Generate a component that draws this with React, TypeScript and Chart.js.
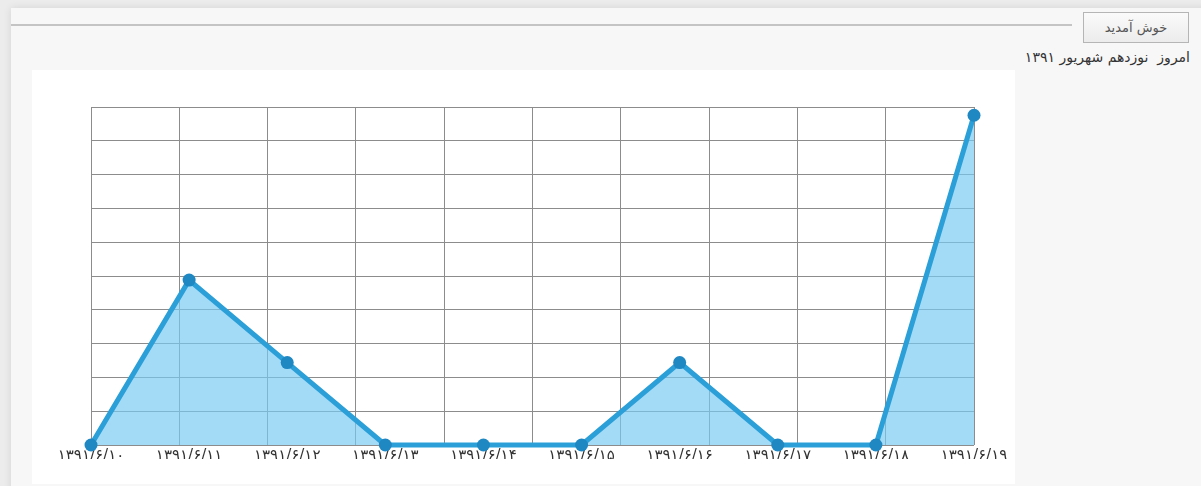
import React, { useEffect, useRef } from "react";
import { Chart, registerables } from "chart.js";

Chart.register(...registerables);

const dateLabels = [
  "۱۳۹۱/۶/۱۰",
  "۱۳۹۱/۶/۱۱",
  "۱۳۹۱/۶/۱۲",
  "۱۳۹۱/۶/۱۳",
  "۱۳۹۱/۶/۱۴",
  "۱۳۹۱/۶/۱۵",
  "۱۳۹۱/۶/۱۶",
  "۱۳۹۱/۶/۱۷",
  "۱۳۹۱/۶/۱۸",
  "۱۳۹۱/۶/۱۹",
];
const visits = [0, 2, 1, 0, 0, 0, 1, 0, 0, 4];
const yMax = 4.1;
const gridColumns = 10;

const welcomeText = "خوش آمدید";
const todayText = "امروز  نوزدهم شهریور ۱۳۹۱";

export default function App() {
  const canvasRef = useRef<HTMLCanvasElement | null>(null);

  useEffect(() => {
    const prev = document.body.style.margin;
    document.body.style.margin = "0";
    const canvas = canvasRef.current;
    if (!canvas) return;
    const points = visits.map((v, i) => ({ x: i, y: v }));
    const chart = new Chart(canvas, {
      type: "line",
      data: {
        datasets: [
          {
            data: points,
            borderColor: "#2b9fd8",
            borderWidth: 5,
            backgroundColor: "rgba(120, 200, 242, 0.68)",
            fill: "origin",
            tension: 0,
            clip: false,
            pointRadius: 6.5,
            pointHoverRadius: 6.5,
            pointBackgroundColor: "#1f87c2",
            pointBorderColor: "#1f87c2",
            pointBorderWidth: 0,
            xAxisID: "x",
            yAxisID: "y",
          },
        ],
      },
      options: {
        animation: false,
        responsive: false,
        maintainAspectRatio: false,
        layout: { padding: { left: 59, right: 41, top: 37, bottom: 25 } },
        plugins: { legend: { display: false }, tooltip: { enabled: false } },
        scales: {
          x: {
            type: "linear",
            position: "bottom",
            min: 0,
            max: dateLabels.length - 1,
            grid: { display: false },
            border: { display: false },
            ticks: {
              stepSize: 1,
              autoSkip: false,
              maxRotation: 0,
              padding: -6,
              color: "#333",
              font: { family: "DejaVu Sans", size: 15 },
              callback: (v: any) => dateLabels[Math.round(Number(v))] ?? "",
            },
          },
          x2: {
            type: "linear",
            position: "top",
            min: 0,
            max: gridColumns,
            grid: { color: "#8c8c8c", lineWidth: 1, drawTicks: false },
            border: { display: true, color: "#8c8c8c" },
            ticks: { display: false, stepSize: 1 },
          },
          y: {
            type: "linear",
            min: 0,
            max: yMax,
            grid: { color: "#8c8c8c", lineWidth: 1, drawTicks: false },
            border: { display: true, color: "#8c8c8c" },
            ticks: { display: false, count: 11 },
          },
        },
      },
    });
    return () => {
      chart.destroy();
      document.body.style.margin = prev;
    };
  }, []);

  return (
    <div
      style={{
        position: "relative",
        width: 1201,
        height: 486,
        background: "#ececec",
        overflow: "hidden",
        fontFamily: "Tahoma, 'DejaVu Sans', sans-serif",
      }}
    >
      <div
        style={{
          position: "absolute",
          left: 11,
          top: 8,
          width: 1200,
          height: 490,
          background: "#f7f7f7",
          boxShadow: "0 0 8px rgba(0,0,0,0.10)",
        }}
      />
      <div
        style={{
          position: "absolute",
          left: 11,
          top: 24,
          width: 1061,
          height: 2,
          background: "#c4c4c4",
        }}
      />
      <div
        style={{
          position: "absolute",
          left: 1083,
          top: 12,
          width: 106,
          height: 31,
          border: "1px solid #b5b5b5",
          background: "linear-gradient(#fafafa, #ececec)",
          boxSizing: "border-box",
          color: "#555",
          fontSize: 13,
          lineHeight: "29px",
          textAlign: "center",
          direction: "rtl",
        }}
      >
        {welcomeText}
      </div>
      <div
        style={{
          position: "absolute",
          right: 11,
          top: 49,
          color: "#333",
          fontSize: 14,
          direction: "rtl",
          whiteSpace: "pre",
        }}
      >
        {todayText}
      </div>
      <div
        style={{
          position: "absolute",
          left: 32,
          top: 70,
          width: 983,
          height: 414,
          background: "#ffffff",
        }}
      >
        <canvas ref={canvasRef} width={983} height={414} style={{ display: "block" }} />
      </div>
    </div>
  );
}
